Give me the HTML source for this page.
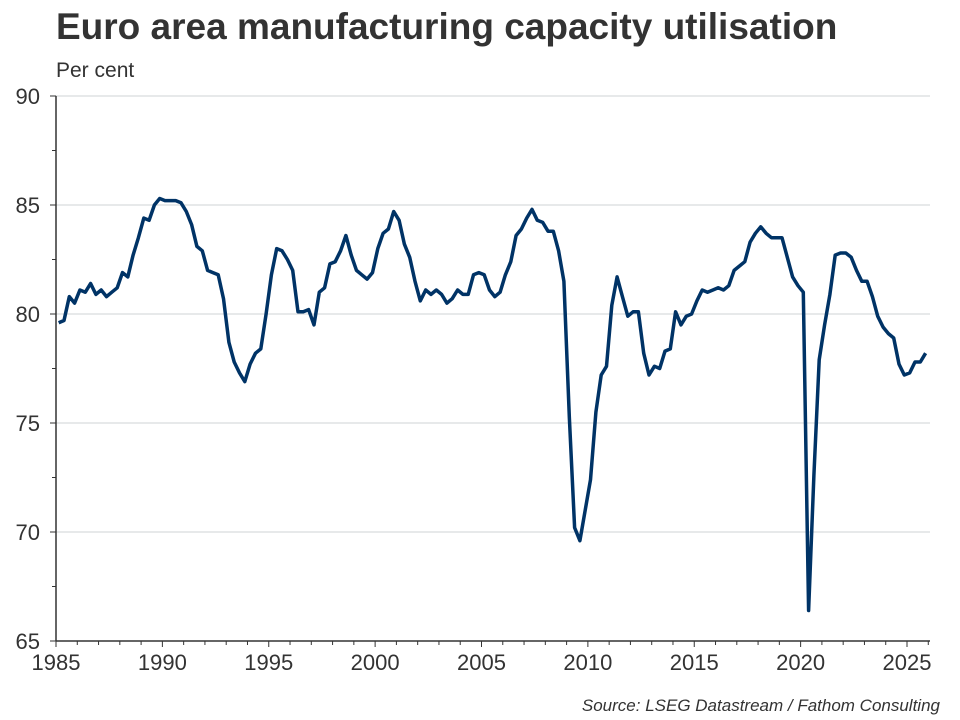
<!DOCTYPE html>
<html><head><meta charset="utf-8"><style>
body{margin:0;background:#fff;font-family:"Liberation Sans",Arial,sans-serif;}
svg{display:block}
</style></head><body>
<svg id="chart" width="960" height="720">
<text x="56" y="39" font-size="37" font-weight="bold" fill="#333">Euro area manufacturing capacity utilisation</text>
<text x="56" y="77" font-size="21" fill="#333">Per cent</text>
<text x="940" y="711" font-size="17" font-style="italic" fill="#333" text-anchor="end">Source: LSEG Datastream / Fathom Consulting</text>
<g id="grid"></g><g id="axes"></g><g id="series"></g>
</svg>
<script>
const startYear = 1985;
const yTicks = [65, 70, 75, 80, 85, 90];
const xTicks = [1985, 1990, 1995, 2000, 2005, 2010, 2015, 2020, 2025];
const utilisation = [
79.6,79.7,80.8,80.5, 81.1,81.0,81.4,80.9, 81.1,80.8,81.0,81.2, 81.9,81.7,82.7,83.5,
84.4,84.3,85.0,85.3, 85.2,85.2,85.2,85.1, 84.7,84.1,83.1,82.9, 82.0,81.9,81.8,80.7,
78.7,77.8,77.3,76.9, 77.7,78.2,78.4,80.0, 81.8,83.0,82.9,82.5, 82.0,80.1,80.1,80.2,
79.5,81.0,81.2,82.3, 82.4,82.9,83.6,82.7, 82.0,81.8,81.6,81.9, 83.0,83.7,83.9,84.7,
84.3,83.2,82.6,81.5, 80.6,81.1,80.9,81.1, 80.9,80.5,80.7,81.1, 80.9,80.9,81.8,81.9,
81.8,81.1,80.8,81.0, 81.8,82.4,83.6,83.9, 84.4,84.8,84.3,84.2, 83.8,83.8,82.9,81.5,
75.3,70.2,69.6,71.0, 72.4,75.5,77.2,77.6, 80.4,81.7,80.8,79.9, 80.1,80.1,78.2,77.2,
77.6,77.5,78.3,78.4, 80.1,79.5,79.9,80.0, 80.6,81.1,81.0,81.1, 81.2,81.1,81.3,82.0,
82.2,82.4,83.3,83.7, 84.0,83.7,83.5,83.5, 83.5,82.6,81.7,81.3, 81.0,66.4,72.6,77.9,
79.5,80.9,82.7,82.8, 82.8,82.6,82.0,81.5, 81.5,80.8,79.9,79.4, 79.1,78.9,77.7,77.2,
77.3,77.8,77.8,78.2];
const NS="http://www.w3.org/2000/svg";
const X0=56,X1=907,Y0=641,Y1=96;
const xs=y=>X0+(y-1985)*(X1-X0)/40;
const ys=v=>Y0-(v-65)*(Y0-Y1)/25;
function mk(t,a,p){const e=document.createElementNS(NS,t);for(const k in a)e.setAttribute(k,a[k]);p.appendChild(e);return e;}
const grid=document.getElementById('grid'),axes=document.getElementById('axes'),ser=document.getElementById('series');
yTicks.forEach(v=>{
  if(v>65){const g=mk('line',{x1:X0,x2:930,y1:ys(v),y2:ys(v),stroke:'#cfd3d6','stroke-width':1},grid);
  
  }
  const t=mk('text',{x:X0-16,y:ys(v)+8,'font-size':22,fill:'#333','text-anchor':'end'},axes);
  t.textContent=v;
  
  
  mk('line',{x1:X0-6,x2:X0,y1:ys(v),y2:ys(v),stroke:'#333','stroke-width':1},axes);
  if(v<90)mk('line',{x1:X0-4,x2:X0,y1:ys(v+2.5),y2:ys(v+2.5),stroke:'#333','stroke-width':1},axes);
});
const ya=mk('line',{x1:X0,x2:X0,y1:Y1,y2:Y0,stroke:'#333','stroke-width':1.5},axes);


const xa=mk('line',{x1:X0,x2:930,y1:Y0,y2:Y0,stroke:'#333','stroke-width':1.5},axes);


for(let y=1985;y<=2026;y++){mk('line',{x1:xs(y),x2:xs(y),y1:Y0,y2:Y0+(y%5==0?6:4),stroke:'#333','stroke-width':1},axes);}
xTicks.forEach(y=>{const t=mk('text',{x:xs(y),y:Y0+29,'font-size':22,fill:'#333','text-anchor':'middle'},axes);
  t.textContent=y;
  
  });
const pts=utilisation.map((v,i)=>xs(startYear+(i+0.5)/4).toFixed(1)+','+ys(v).toFixed(1)).join(' ');
const pl=mk('polyline',{points:pts,fill:'none',stroke:'#003366','stroke-width':3.5,'stroke-linejoin':'round'},ser);


</script>
</body></html>
